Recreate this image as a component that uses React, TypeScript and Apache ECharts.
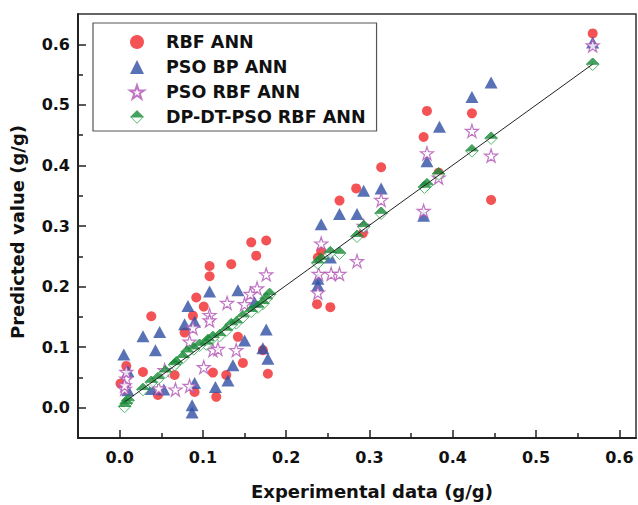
import React, { useEffect, useRef } from "react";
import * as echarts from "echarts";

// ---- data ----
const seriesNames = ["RBF ANN", "PSO BP ANN", "PSO RBF ANN", "DP-DT-PSO RBF ANN"];

const rbfAnn: number[][] = [
  [0.568, 0.618], [0.446, 0.343], [0.423, 0.486], [0.383, 0.388], [0.369, 0.49],
  [0.365, 0.447], [0.314, 0.397], [0.292, 0.288], [0.284, 0.362], [0.264, 0.342],
  [0.242, 0.259], [0.238, 0.248], [0.237, 0.171], [0.253, 0.166], [0.176, 0.276],
  [0.158, 0.273], [0.164, 0.251], [0.134, 0.237], [0.108, 0.234], [0.108, 0.217],
  [0.092, 0.182], [0.101, 0.167], [0.088, 0.152], [0.078, 0.124], [0.038, 0.151],
  [0.142, 0.117], [0.172, 0.095], [0.178, 0.056], [0.148, 0.074], [0.112, 0.058],
  [0.128, 0.054], [0.116, 0.018], [0.09, 0.026], [0.066, 0.054], [0.046, 0.021],
  [0.028, 0.059], [0.008, 0.069], [0.001, 0.04],
];

const psoBpAnn: number[][] = [
  [0.568, 0.603], [0.446, 0.537], [0.423, 0.513], [0.384, 0.464], [0.369, 0.407],
  [0.365, 0.317], [0.314, 0.362], [0.293, 0.358], [0.264, 0.32], [0.285, 0.32],
  [0.242, 0.303], [0.253, 0.248], [0.238, 0.213], [0.238, 0.202], [0.142, 0.194],
  [0.108, 0.192], [0.162, 0.174], [0.176, 0.129], [0.15, 0.111], [0.172, 0.098],
  [0.178, 0.081], [0.136, 0.07], [0.13, 0.045], [0.115, 0.034], [0.09, 0.041],
  [0.087, 0.004], [0.087, -0.008], [0.082, 0.168], [0.078, 0.138], [0.09, 0.142],
  [0.028, 0.118], [0.048, 0.125], [0.043, 0.095], [0.005, 0.088], [0.01, 0.06],
  [0.01, 0.029], [0.038, 0.031], [0.053, 0.03],
];

const psoRbfAnn: number[][] = [
  [0.568, 0.598], [0.446, 0.416], [0.423, 0.457], [0.383, 0.38], [0.369, 0.42],
  [0.365, 0.325], [0.314, 0.343], [0.293, 0.3], [0.285, 0.242], [0.242, 0.271],
  [0.239, 0.221], [0.254, 0.221], [0.264, 0.221], [0.238, 0.19], [0.176, 0.22],
  [0.165, 0.197], [0.157, 0.188], [0.15, 0.171], [0.129, 0.173], [0.108, 0.153],
  [0.108, 0.144], [0.088, 0.132], [0.084, 0.109], [0.101, 0.067], [0.14, 0.095],
  [0.112, 0.095], [0.118, 0.097], [0.084, 0.036], [0.067, 0.03], [0.047, 0.032],
  [0.054, 0.062], [0.008, 0.048], [0.008, 0.059], [0.006, 0.031], [0.006, 0.037],
];

const dpDtPsoRbfAnn: number[][] = [
  [0.568, 0.567], [0.446, 0.445], [0.423, 0.424], [0.383, 0.386], [0.369, 0.368],
  [0.366, 0.364], [0.314, 0.321], [0.293, 0.299], [0.285, 0.283], [0.264, 0.255],
  [0.253, 0.256], [0.242, 0.245], [0.238, 0.239], [0.18, 0.187], [0.176, 0.18],
  [0.172, 0.172], [0.166, 0.166], [0.158, 0.159], [0.148, 0.15], [0.14, 0.14],
  [0.134, 0.137], [0.128, 0.128], [0.12, 0.119], [0.112, 0.116], [0.106, 0.111],
  [0.104, 0.105], [0.096, 0.103], [0.089, 0.097], [0.081, 0.092], [0.076, 0.083],
  [0.068, 0.074], [0.066, 0.071], [0.055, 0.059], [0.046, 0.048], [0.038, 0.042],
  [0.028, 0.03], [0.01, 0.012], [0.008, 0.007], [0.006, 0.002],
];

const xTicks = [0, 0.1, 0.2, 0.3, 0.4, 0.5, 0.6];
const xMinorTicks = [0.05, 0.15, 0.25, 0.35, 0.45, 0.55];
const yTicks = [0, 0.1, 0.2, 0.3, 0.4, 0.5, 0.6];
const yMinorTicks = [0.05, 0.15, 0.25, 0.35, 0.45, 0.55];

const xTitle = "Experimental data (g/g)";
const yTitle = "Predicted value (g/g)";

// ---- styling ----
const FONT = "'DejaVu Sans', sans-serif";
const starPath =
  "path://M50 0 L61.2 34.5 L97.6 34.5 L68.2 55.9 L79.4 90.5 L50 69.1 L20.6 90.5 L31.8 55.9 L2.4 34.5 L38.8 34.5 Z";
const diamondSvg =
  '<svg xmlns="http://www.w3.org/2000/svg" width="28" height="28" viewBox="0 0 28 28">' +
  '<polygon points="14,1.5 26.5,14 14,26.5 1.5,14" fill="#ffffff" stroke="#2fa84d" stroke-width="2"/>' +
  '<polygon points="14,1.5 26.5,14 1.5,14" fill="#178a36" stroke="#178a36" stroke-width="2" stroke-linejoin="round"/>' +
  "</svg>";
const diamondSymbol = "image://data:image/svg+xml;charset=utf-8," + encodeURIComponent(diamondSvg);

function fitLine(pts: number[][]): number[][] {
  const n = pts.length;
  let sx = 0, sy = 0, sxx = 0, sxy = 0;
  for (const [x, y] of pts) { sx += x; sy += y; sxx += x * x; sxy += x * y; }
  const b = (n * sxy - sx * sy) / (n * sxx - sx * sx);
  const a = (sy - b * sx) / n;
  const xs = pts.map((p) => p[0]);
  const x0 = Math.min(...xs), x1 = Math.max(...xs);
  return [[x0, a + b * x0], [x1, a + b * x1]];
}

export default function App() {
  const ref = useRef<HTMLDivElement>(null);
  useEffect(() => {
    if (!ref.current) return;
    const chart = echarts.init(ref.current, null, { renderer: "svg" });
    const labelStyle = { fontFamily: FONT, fontWeight: "bold" as const, fontSize: 16, color: "#111" };
    const titleStyle = { fontFamily: FONT, fontWeight: "bold" as const, fontSize: 18, color: "#111" };
    const fmt = (v: number) => v.toFixed(1);
    const tickLine = { color: "#222", width: 1.5 };
    chart.setOption({
      animation: false,
      backgroundColor: "#ffffff",
      grid: { left: 78, right: 2, top: 14, bottom: 67, show: true, borderColor: "#333", borderWidth: 1.5 },
      legend: {
        data: seriesNames,
        orient: "vertical",
        left: 93,
        top: 23,
        padding: [10, 11, 5, 36],
        itemGap: 7,
        itemWidth: 14,
        itemHeight: 14,
        borderColor: "#555",
        borderWidth: 1.2,
        textStyle: { fontFamily: FONT, fontWeight: "bold", fontSize: 17.5, color: "#111", padding: [0, 0, 0, 17] },
      },
      xAxis: [
        {
          type: "value", min: -0.05, max: 0.62,
          name: xTitle, nameLocation: "middle", nameGap: 44,
          nameTextStyle: { ...titleStyle, padding: [0, 0, 0, 30] },
          axisLine: { onZero: false, lineStyle: { color: "#222", width: 2 } },
          axisTick: { customValues: xTicks, inside: true, length: 8, lineStyle: tickLine },
          axisLabel: { customValues: xTicks, formatter: fmt, margin: 11, ...labelStyle },
          splitLine: { show: false },
        },
        {
          type: "value", min: -0.05, max: 0.62, position: "bottom",
          axisLine: { show: false, onZero: false },
          axisTick: { customValues: xMinorTicks, inside: true, length: 5, lineStyle: tickLine },
          axisLabel: { show: false },
          splitLine: { show: false },
        },
      ],
      yAxis: [
        {
          type: "value", min: -0.05, max: 0.65,
          name: yTitle, nameLocation: "middle", nameGap: 52,
          nameTextStyle: { ...titleStyle, padding: [0, 12, 0, 0] },
          axisLine: { onZero: false, lineStyle: { color: "#222", width: 2 } },
          axisTick: { customValues: yTicks, inside: true, length: 8, lineStyle: tickLine },
          axisLabel: { customValues: yTicks, formatter: fmt, margin: 8, ...labelStyle },
          splitLine: { show: false },
        },
        {
          type: "value", min: -0.05, max: 0.65, position: "left",
          axisLine: { show: false, onZero: false },
          axisTick: { customValues: yMinorTicks, inside: true, length: 5, lineStyle: tickLine },
          axisLabel: { show: false },
          splitLine: { show: false },
        },
      ],
      series: [
        {
          name: seriesNames[0], type: "scatter", data: rbfAnn,
          symbol: "circle", symbolSize: 10,
          itemStyle: { color: "#f0282a" },
        },
        {
          name: seriesNames[1], type: "scatter", data: psoBpAnn,
          symbol: "triangle", symbolSize: [13, 12],
          itemStyle: { color: "#2f4fa3" },
        },
        {
          name: seriesNames[2], type: "scatter", data: psoRbfAnn,
          symbol: starPath, symbolSize: 13,
          itemStyle: { color: "#ffffff", borderColor: "#b052b4", borderWidth: 1.2 },
        },
        {
          name: "fit", type: "line", data: fitLine(dpDtPsoRbfAnn),
          showSymbol: false, symbol: "none", silent: true,
          lineStyle: { color: "#222", width: 1 },
        },
        {
          name: seriesNames[3], type: "scatter", data: dpDtPsoRbfAnn,
          symbol: diamondSymbol, symbolSize: 14,
          itemStyle: { color: "#178a36" },
        },
      ],
    });
    return () => chart.dispose();
  }, []);
  return <div ref={ref} style={{ position: "fixed", left: 0, top: 0, width: 638, height: 505 }} />;
}
